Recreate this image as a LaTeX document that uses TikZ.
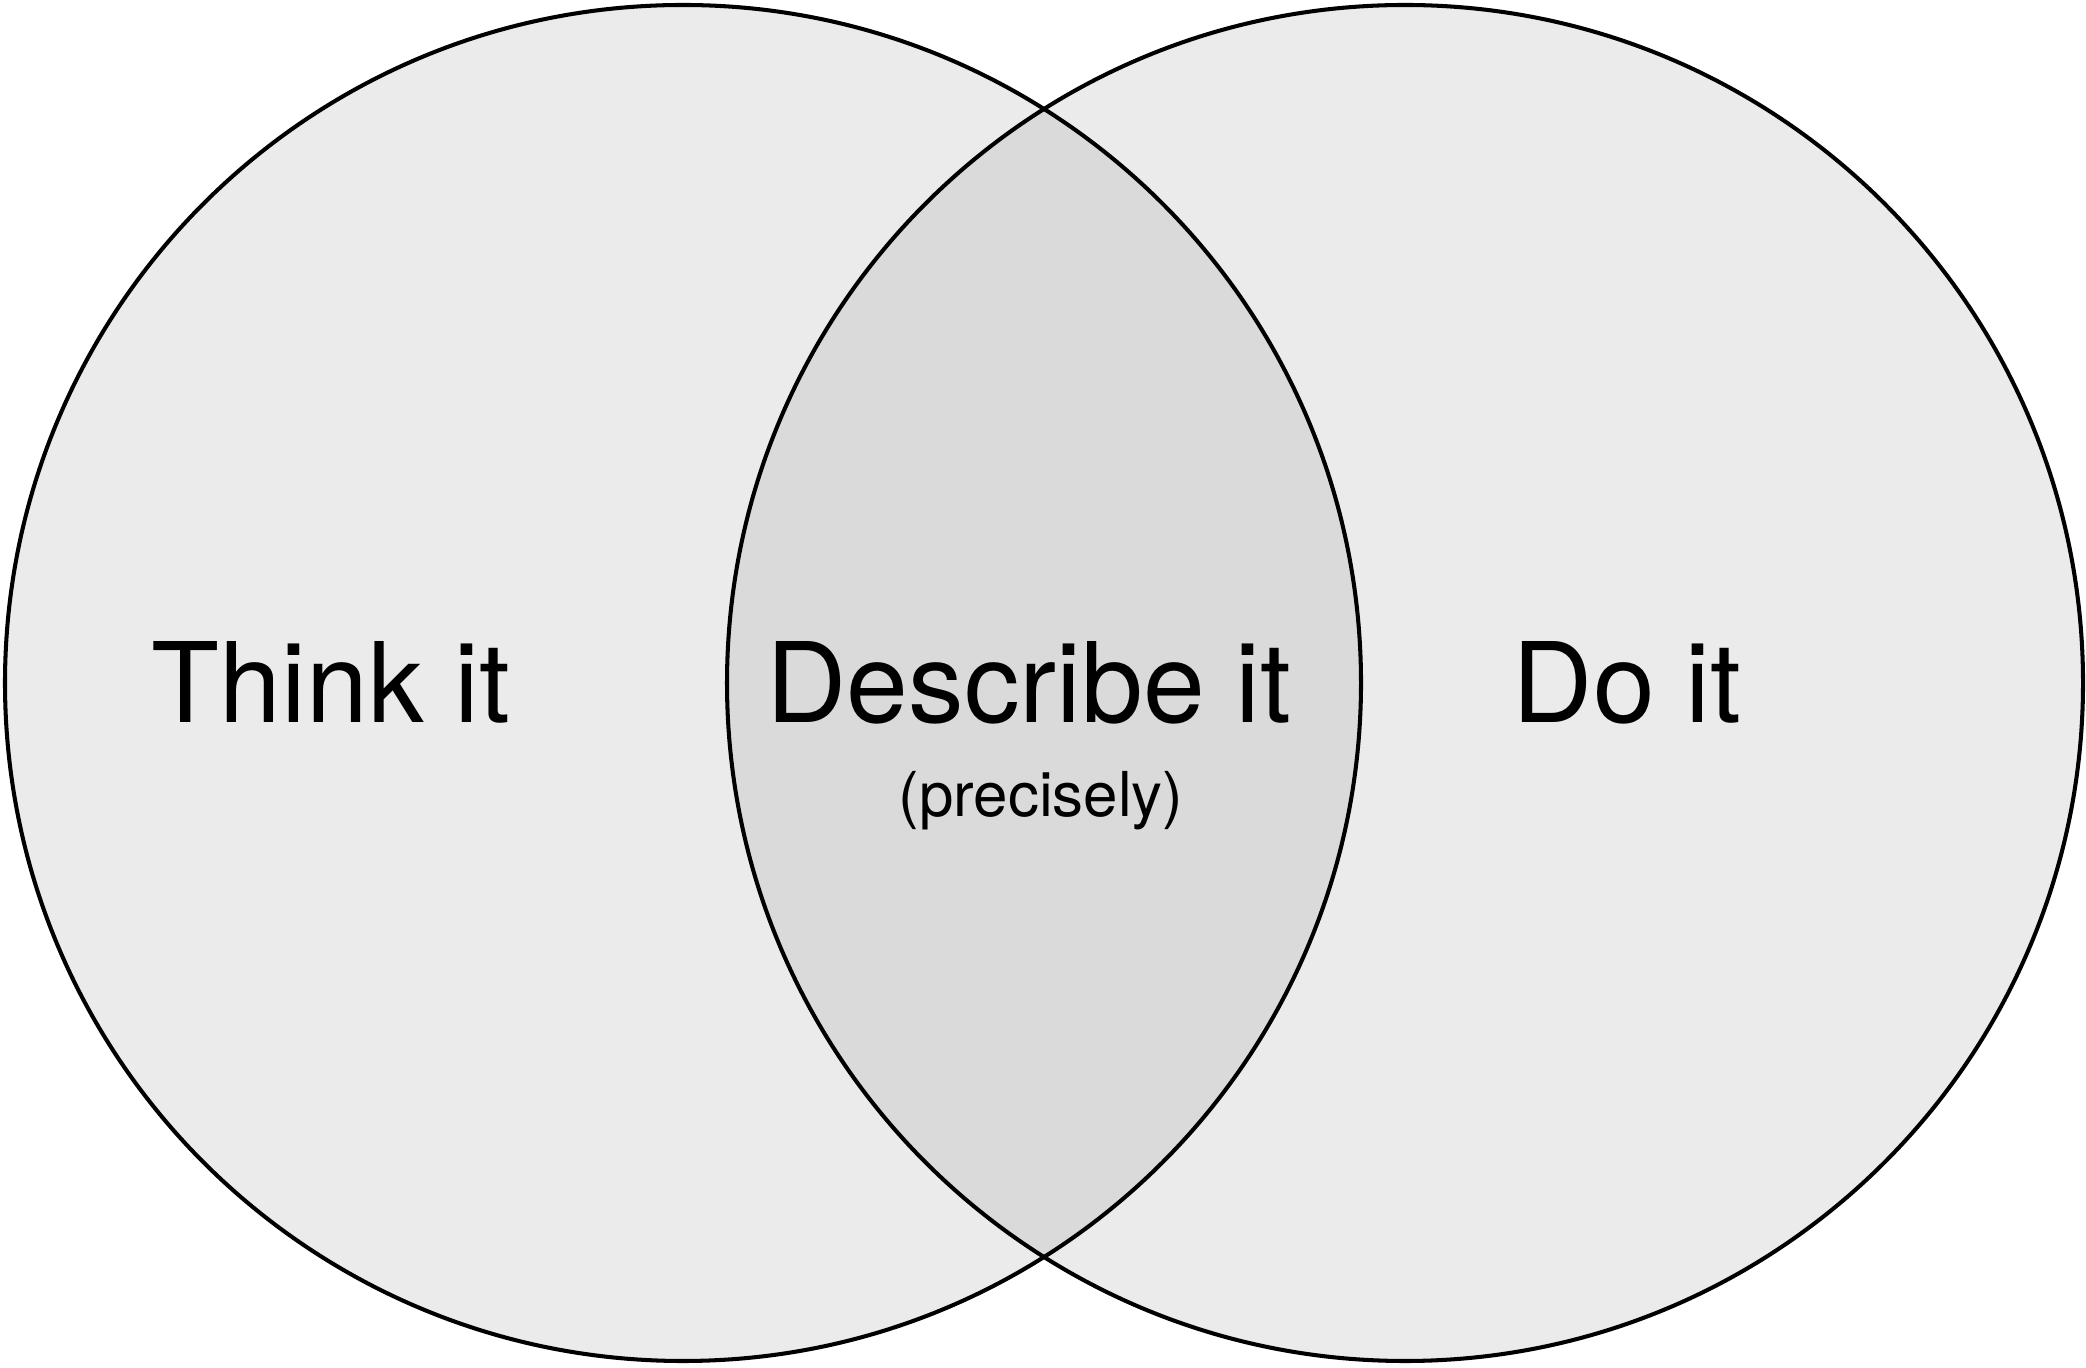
\documentclass[tikz,border=0pt]{standalone}
\usepackage{fontspec}
\setmainfont{TeX Gyre Heros}
\definecolor{setfill}{RGB}{235,235,235}
\definecolor{meetfill}{RGB}{218,218,218}
\tikzset{
  setline/.style={line width=1.15pt, draw=black},
  biglabel/.style={anchor=base, inner sep=0pt, font=\fontsize{31.6}{38}\selectfont},
  smalllabel/.style={anchor=base, inner sep=0pt, font=\fontsize{17.6}{21}\selectfont}
}
\begin{document}
\begin{tikzpicture}[x=0.01cm,y=0.01cm]
\useasboundingbox (0,0) rectangle (2086,1367);

% Drawing the two sets
\coordinate (thinkc) at (683,684);
\coordinate (doc) at (1405,684);
\fill [setfill] (thinkc) circle [radius=678];
\fill [setfill] (doc) circle [radius=678];

% Shading the overlap
\begin{scope}
  \clip (thinkc) circle [radius=678];
  \fill [meetfill] (doc) circle [radius=678];
\end{scope}

\draw [setline] (thinkc) circle [radius=678];
\draw [setline] (doc) circle [radius=678];

% Labels
\node [biglabel] (think) at (331,644) {Think it};
\node [biglabel] (describe) at (1029,644) {Describe it};
\node [smalllabel] (precisely) at (1041,550) {(precisely)};
\node [biglabel] (doit) at (1627,644) {Do it};
\end{tikzpicture}
\end{document}
